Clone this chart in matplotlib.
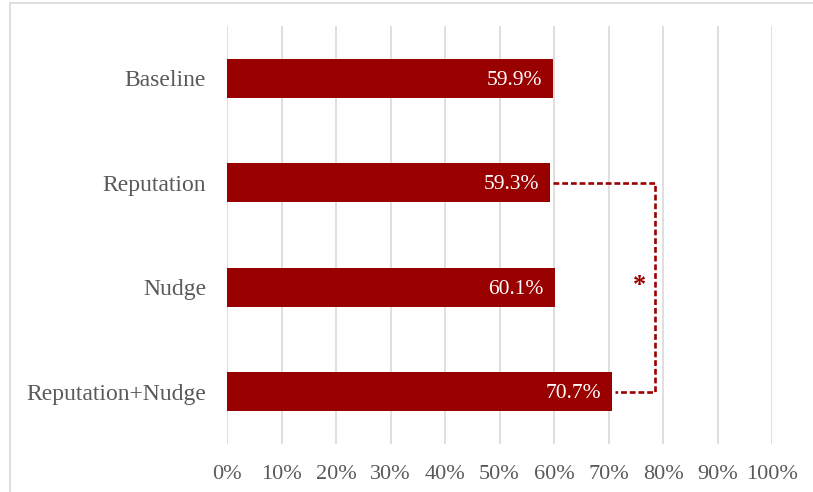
import matplotlib
matplotlib.use("Agg")
import matplotlib.pyplot as plt
from matplotlib.lines import Line2D

categories = ["Baseline", "Reputation", "Nudge", "Reputation+Nudge"]
values = [59.9, 59.3, 60.1, 70.7]
value_labels = ["59.9%", "59.3%", "60.1%", "70.7%"]
xticks = [0, 10, 20, 30, 40, 50, 60, 70, 80, 90, 100]
xtick_labels = [f"{t}%" for t in xticks]
bracket_pair = (1, 3)
bracket_x = 78.5
sig_label = "*"

bar_color = "#990000"
text_gray = "#595959"

plt.rcParams['font.family'] = ['Liberation Serif', 'DejaVu Serif']

fig = plt.figure(figsize=(8.13, 4.92), dpi=100)
ax = fig.add_axes([227/813, 1-444/492, (772-227)/813, (444-26)/492])

ypos = list(range(len(categories)))
ax.barh(ypos, values, height=0.375, color=bar_color, zorder=3)
ax.set_ylim(len(categories) - 0.5, -0.5)
ax.set_xlim(0, 100)
ax.set_yticks(ypos)
ax.set_yticklabels(categories, fontsize=17, color=text_gray)
ax.set_xticks(xticks)
ax.set_xticklabels(xtick_labels, fontsize=16, color=text_gray)
ax.tick_params(axis='both', length=0)
ax.tick_params(axis='y', pad=15)
ax.tick_params(axis='x', pad=15)
ax.grid(axis='x', color='#d9d9d9', linewidth=1.2, zorder=0)
for s in ax.spines.values():
    s.set_visible(False)

for y, v, lab in zip(ypos, values, value_labels):
    ax.text(v - 2.0, y + 0.02, lab, color='white', fontsize=15.5,
            ha='right', va='center', zorder=4)

i, j = bracket_pair
ax.plot([values[i] + 0.5, bracket_x, bracket_x, values[j] + 0.5],
        [i, i, j, j], color=bar_color, linestyle=(0, (2.2, 1.1)),
        linewidth=1.9, zorder=4)
ax.text(bracket_x - 2.8, (i + j) / 2 - 0.02, sig_label, color=bar_color,
        fontsize=19, fontweight='bold', ha='center', va='center')

# figure border (light gray)
fig.add_artist(Line2D([10/813, 10/813], [0, 1-2.5/492], transform=fig.transFigure,
                      color='#d9d9d9', linewidth=1.2))
fig.add_artist(Line2D([10/813, 1], [1-2.5/492, 1-2.5/492], transform=fig.transFigure,
                      color='#d9d9d9', linewidth=1.2))

fig.savefig("out.png", dpi=100)
